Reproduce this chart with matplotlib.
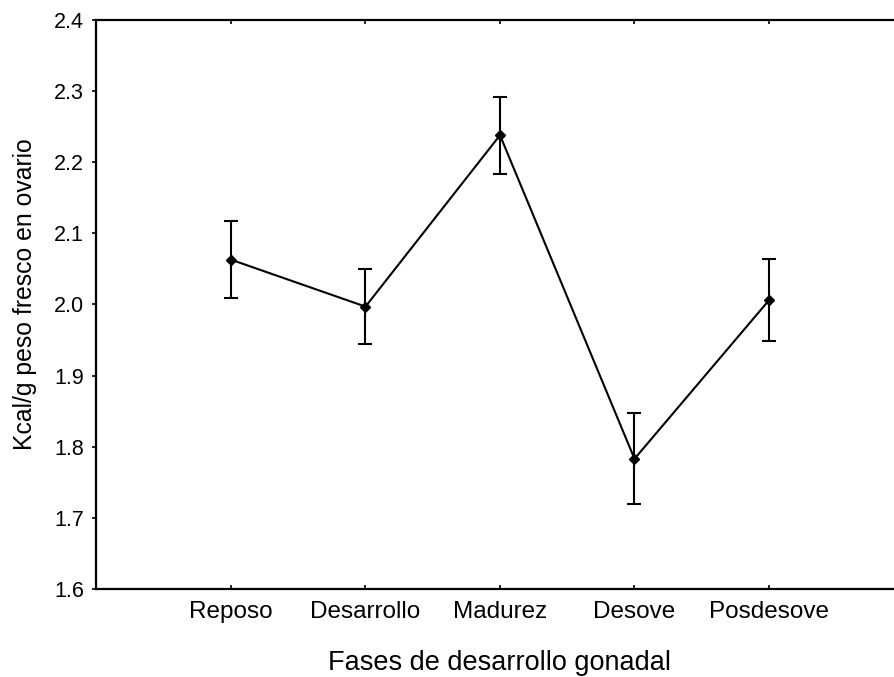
import matplotlib
matplotlib.use("Agg")
import matplotlib.pyplot as plt

# Gonadal development phases and ovarian energy content (mean ± error)
phases = ["Reposo", "Desarrollo", "Madurez", "Desove", "Posdesove"]
kcal_mean = [2.063, 1.997, 2.238, 1.783, 2.006]
kcal_err = [0.054, 0.053, 0.054, 0.064, 0.058]
y_ticks = [1.6, 1.7, 1.8, 1.9, 2.0, 2.1, 2.2, 2.3, 2.4]

plt.rcParams["font.family"] = ["Liberation Sans", "DejaVu Sans"]

fig = plt.figure(figsize=(8.95, 6.77), dpi=100)
ax = fig.add_axes([0.1078, 0.130, 0.9017, 0.8405])

x = list(range(1, len(phases) + 1))
ax.errorbar(x, kcal_mean, yerr=kcal_err, color="black", linewidth=1.5,
            elinewidth=1.5, capsize=4.7, capthick=1.5,
            marker="D", markersize=5, markerfacecolor="black",
            markeredgecolor="black")

ax.set_xlim(0, 6)
ax.set_ylim(1.6, 2.4)
ax.set_xticks(x)
ax.set_xticklabels(phases, fontsize=17.5)
ax.set_yticks(y_ticks)
ax.set_yticklabels([f"{v:.1f}" for v in y_ticks], fontsize=15.5)

ax.tick_params(axis="x", direction="in", top=True, length=3, width=1.2, pad=9)
ax.tick_params(axis="y", direction="out", length=3, width=1.2, pad=6)

for side in ("left", "top", "bottom"):
    ax.spines[side].set_linewidth(1.6)
ax.spines["right"].set_visible(False)

ax.set_xlabel("Fases de desarrollo gonadal", fontsize=19.5, labelpad=19)
ax.set_ylabel("Kcal/g peso fresco en ovario", fontsize=17.8, labelpad=12)
ax.yaxis.label.set_y(0.518)

fig.savefig("out.png", dpi=100)
